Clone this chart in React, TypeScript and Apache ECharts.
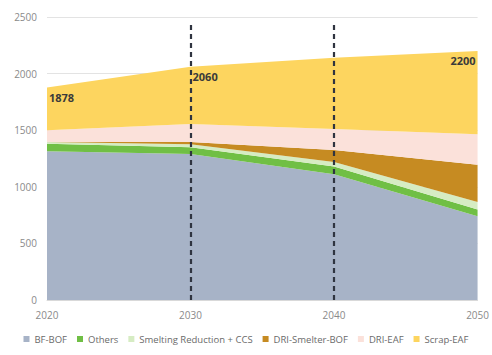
import React, { useEffect, useRef } from "react";
import * as echarts from "echarts";

const years = ["2020", "2030", "2040", "2050"];
const bfBof = [1315, 1290, 1110, 740];
const others = [65, 60, 70, 60];
const smelting = [15, 25, 40, 65];
const driSmelterBof = [0, 20, 105, 330];
const driEaf = [105, 160, 185, 270];
const scrapEaf = [378, 505, 630, 735];
const totalLabels = ["1878", "2060", "", "2200"];
const dashedYears = ["2030", "2040"];

const seriesDefs = [
  { name: "BF-BOF", data: bfBof, color: "#a7b3c7" },
  { name: "Others", data: others, color: "#70bf45" },
  { name: "Smelting Reduction + CCS", data: smelting, color: "#d6ecc3" },
  { name: "DRI-Smelter-BOF", data: driSmelterBof, color: "#c68b22" },
  { name: "DRI-EAF", data: driEaf, color: "#fbe1da" },
  { name: "Scrap-EAF", data: scrapEaf, color: "#fdd55f" },
];

export default function App() {
  const ref = useRef<HTMLDivElement>(null);
  useEffect(() => {
    if (!ref.current) return;
    const chart = echarts.init(ref.current, null, { renderer: "svg" });
    const series: any[] = seriesDefs.map((s, i) => {
      const isTop = i === seriesDefs.length - 1;
      return {
        name: s.name,
        type: "line",
        stack: "total",
        data: isTop
          ? s.data.map((v, j) => ({
              value: v,
              label: {
                show: totalLabels[j] !== "",
                formatter: totalLabels[j],
                position: j === years.length - 1 ? "left" : "right",
                distance: 2,
                offset: [0, 10],
                color: "#3a3a3a",
                fontSize: 11,
                fontWeight: "bold",
                fontFamily: "Open Sans",
              },
            }))
          : s.data,
        symbol: "circle",
        symbolSize: 0,
        showSymbol: true,
        lineStyle: { width: 0 },
        itemStyle: { color: s.color },
        areaStyle: { color: s.color, opacity: 1 },
        emphasis: { disabled: true },
        z: 2,
      };
    });
    series[0].markLine = {
      silent: true,
      symbol: "none",
      label: { show: false },
      lineStyle: { color: "#2f3440", type: [5, 4], width: 2.2 },
      data: dashedYears.map((y) => [
        { coord: [y, 0] },
        { coord: [y, 2440] },
      ]),
      z: 10,
    };
    chart.setOption({
      animation: false,
      grid: { left: 47, right: 13, top: 17, bottom: 55 },
      legend: {
        bottom: 6,
        left: "center",
        itemWidth: 6,
        itemHeight: 6,
        itemGap: 10,
        icon: "rect",
        textStyle: { color: "#6a6a6a", fontSize: 9.5, fontFamily: "Open Sans" },
        data: seriesDefs.map((s) => s.name),
      },
      xAxis: {
        type: "category",
        data: years,
        boundaryGap: false,
        axisLine: { show: true, lineStyle: { color: "#d9d9d9" } },
        axisTick: { show: false },
        axisLabel: { color: "#8a8a8a", fontSize: 10, margin: 10, fontFamily: "Open Sans" },
        splitLine: { show: false },
      },
      yAxis: {
        type: "value",
        min: 0,
        max: 2500,
        interval: 500,
        axisLine: { show: false },
        axisTick: { show: false },
        axisLabel: {
          color: "#8a8a8a",
          fontSize: 10,
          margin: 10,
          fontFamily: "Open Sans",
          formatter: (v: number) => String(v),
        },
        splitLine: { lineStyle: { color: "#e3e3e3" } },
      },
      series,
    });
    return () => chart.dispose();
  }, []);
  return <div ref={ref} style={{ width: 492, height: 355, position: "absolute", left: 0, top: 0 }} />;
}
